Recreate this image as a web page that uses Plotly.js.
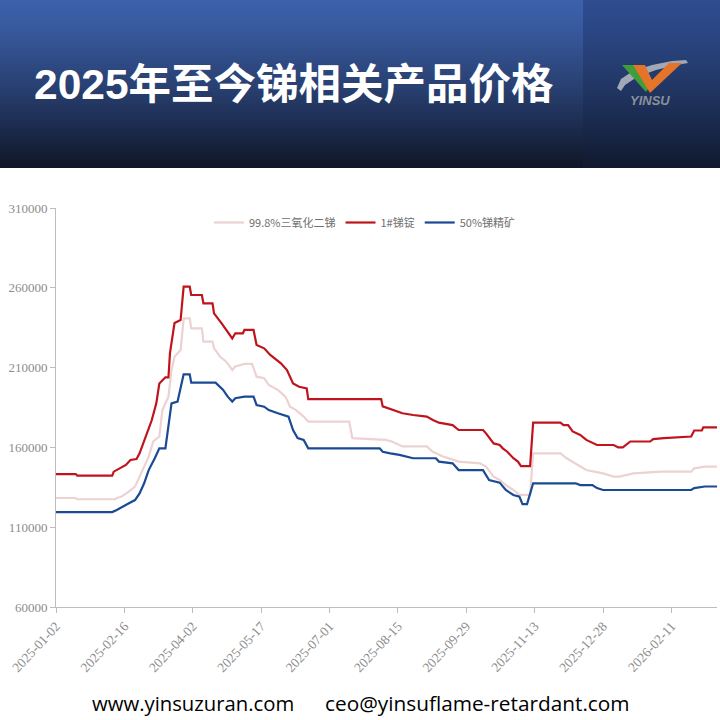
<!DOCTYPE html>
<html>
<head>
<meta charset="utf-8">
<script src="https://cdn.plot.ly/plotly-3.0.1.min.js"></script>
<style>html,body{margin:0;padding:0;background:#fff;}#chart{width:720px;height:720px;}</style>
</head>
<body>
<div id="chart"></div>
<script>
// ---------- DATA ----------
const seriesNames = ["99.8%三氧化二锑", "1#锑锭", "50%锑精矿"];

const oxideDates = ["2025-01-02","2025-01-15","2025-01-16","2025-02-10","2025-02-11","2025-02-14","2025-02-18","2025-02-23","2025-02-26","2025-03-01","2025-03-04","2025-03-07","2025-03-11","2025-03-13","2025-03-17","2025-03-19","2025-03-21","2025-03-25","2025-03-27","2025-03-31","2025-04-01","2025-04-08","2025-04-09","2025-04-15","2025-04-16","2025-04-20","2025-04-24","2025-04-28","2025-04-30","2025-05-06","2025-05-11","2025-05-14","2025-05-19","2025-05-22","2025-05-28","2025-06-02","2025-06-05","2025-06-09","2025-06-14","2025-06-17","2025-07-14","2025-07-16","2025-08-07","2025-08-11","2025-08-18","2025-09-03","2025-09-07","2025-09-14","2025-09-24","2025-10-08","2025-10-12","2025-10-17","2025-10-21","2025-10-25","2025-10-30","2025-11-03","2025-11-10","2025-11-12","2025-11-30","2025-12-04","2025-12-11","2025-12-17","2025-12-28","2026-01-04","2026-01-08","2026-01-13","2026-01-17","2026-02-04","2026-02-24","2026-02-26","2026-03-05","2026-03-13"];
const oxideValues = [128300,128300,127500,127500,128300,129100,131700,135400,141700,148000,154200,163700,166800,183400,191800,208500,216800,221000,240900,240900,234600,234600,226300,226300,222100,216800,213700,208500,210700,212300,212300,204300,203300,199100,196000,191800,185500,183400,179300,176200,176200,165800,164700,163700,160600,160600,157300,154200,151100,150000,148000,141700,139600,136400,133300,130200,130200,156300,156300,153200,149000,145800,143700,141700,141700,142700,143700,144800,144800,146900,148000,148000];

const ingotDates = ["2025-01-02","2025-01-15","2025-01-16","2025-02-08","2025-02-09","2025-02-11","2025-02-14","2025-02-17","2025-02-20","2025-02-24","2025-02-26","2025-02-28","2025-03-03","2025-03-06","2025-03-09","2025-03-11","2025-03-15","2025-03-17","2025-03-18","2025-03-21","2025-03-25","2025-03-27","2025-03-31","2025-04-01","2025-04-08","2025-04-09","2025-04-15","2025-04-16","2025-04-21","2025-04-24","2025-04-28","2025-04-30","2025-05-05","2025-05-06","2025-05-12","2025-05-14","2025-05-19","2025-05-23","2025-05-30","2025-06-03","2025-06-07","2025-06-11","2025-06-16","2025-06-17","2025-08-04","2025-08-05","2025-08-10","2025-08-15","2025-08-18","2025-08-25","2025-09-03","2025-09-07","2025-09-11","2025-09-20","2025-09-24","2025-10-10","2025-10-12","2025-10-17","2025-10-21","2025-10-23","2025-10-26","2025-10-30","2025-11-02","2025-11-04","2025-11-10","2025-11-12","2025-11-30","2025-12-02","2025-12-05","2025-12-08","2025-12-13","2025-12-17","2025-12-24","2026-01-04","2026-01-07","2026-01-10","2026-01-15","2026-01-28","2026-01-30","2026-02-06","2026-02-24","2026-02-26","2026-03-03","2026-03-04","2026-03-13"];
const ingotValues = [143300,143300,142300,142300,144800,145800,147500,149000,152100,152700,156300,161500,168800,177000,187600,200000,203900,203900,219100,237900,239800,260700,260700,255500,255500,250300,250300,244000,237700,233600,228300,231500,231500,233600,233600,224200,222100,217900,212700,208500,200000,198000,197000,190300,190300,185700,183900,182400,181400,180300,179300,177200,175500,174000,170900,170900,168800,162500,161500,159400,157300,153200,151100,148300,148300,175500,175500,174000,174000,170000,167800,164700,161500,161500,160000,160000,163700,163700,165200,165800,166800,170600,170600,172600,172600];

const oreDates = ["2025-01-02","2025-02-08","2025-02-11","2025-02-14","2025-02-19","2025-02-23","2025-02-26","2025-03-01","2025-03-04","2025-03-08","2025-03-11","2025-03-15","2025-03-17","2025-03-19","2025-03-23","2025-03-27","2025-03-31","2025-04-01","2025-04-17","2025-04-22","2025-04-25","2025-04-28","2025-04-30","2025-05-06","2025-05-12","2025-05-14","2025-05-19","2025-05-22","2025-05-28","2025-06-04","2025-06-07","2025-06-10","2025-06-14","2025-06-17","2025-08-03","2025-08-05","2025-08-10","2025-08-16","2025-08-25","2025-09-09","2025-09-11","2025-09-20","2025-09-24","2025-10-10","2025-10-14","2025-10-21","2025-10-25","2025-10-30","2025-11-03","2025-11-05","2025-11-08","2025-11-12","2025-12-10","2025-12-13","2025-12-21","2025-12-24","2025-12-28","2026-02-24","2026-02-26","2026-03-05","2026-03-13"];
const oreValues = [119500,119500,120800,122500,125000,127000,131200,137500,145800,153200,159400,159400,175100,187600,188700,205800,205800,200600,200600,196000,191800,188700,190800,191800,191800,186600,185500,183400,181400,179300,170900,165800,164700,159400,159400,157300,156300,155300,153200,153200,151100,150000,145800,145800,139600,137900,133300,130200,129100,124500,124500,137500,137500,136400,136400,134500,133300,133300,134500,135500,135500];

const xTickVals = ["2025-01-02","2025-02-16","2025-04-02","2025-05-17","2025-07-01","2025-08-15","2025-09-29","2025-11-13","2025-12-28","2026-02-11"];
const yTickVals = [60000,110000,160000,210000,260000,310000];

const titleText = "2025年至今锑相关产品价格";
const footerWeb = "www.yinsuzuran.com";
const footerMail = "ceo@yinsuflame-retardant.com";

// ---------- HELPERS (pixel -> paper) ----------
const W = 720, H = 720;
const px = x => x / W;
const py = y => 1 - y / H;

function lerp(a, b, t) { return Math.round(a + (b - a) * t); }
function rgb(c) { return `rgb(${c[0]},${c[1]},${c[2]})`; }

const shapes = [];
// header gradient bands
const bandH = 4, headerH = 168;
for (let y = 0; y < headerH; y += bandH) {
  const t = Math.pow(y / headerH, 1.25);
  const leftTop = [60, 96, 170], leftBot = [14, 20, 36];
  const rightTop = [46, 76, 142], rightBot = [16, 24, 44];
  shapes.push({type: "rect", xref: "paper", yref: "paper", x0: px(0), x1: px(583), y0: py(Math.min(y + bandH, headerH)), y1: py(y),
    fillcolor: rgb([lerp(leftTop[0], leftBot[0], t), lerp(leftTop[1], leftBot[1], t), lerp(leftTop[2], leftBot[2], t)]), line: {width: 0}, layer: "below"});
  shapes.push({type: "rect", xref: "paper", yref: "paper", x0: px(583), x1: px(720), y0: py(Math.min(y + bandH, headerH)), y1: py(y),
    fillcolor: rgb([lerp(rightTop[0], rightBot[0], t), lerp(rightTop[1], rightBot[1], t), lerp(rightTop[2], rightBot[2], t)]), line: {width: 0}, layer: "below"});
}
// logo
function pathFrom(pts) { return pts.map((p, i) => (i ? "L" : "M") + px(p[0]) + "," + py(p[1])).join(" ") + " Z"; }
// orbit swoosh
shapes.push({type: "path", xref: "paper", yref: "paper", path: pathFrom([[617,88],[621,79],[633,71],[652,65],[672,61],[686,60],[688,63],[676,65],[656,70],[637,77],[625,85],[621,91]]), fillcolor: "#a2a8b4", line: {width: 0}});
// green left arm
shapes.push({type: "path", xref: "paper", yref: "paper", path: pathFrom([[622,65],[637,65],[650,86],[646,92]]), fillcolor: "#3f9d3a", line: {width: 0}});
// orange V
shapes.push({type: "path", xref: "paper", yref: "paper", path: pathFrom([[633,65],[645,65],[652,80],[669,63],[682,63],[650,93]]), fillcolor: "#e4742a", line: {width: 0}});

const annotations = [
  {xref: "paper", yref: "paper", x: px(32), y: py(84), xanchor: "left", yanchor: "middle", showarrow: false,
   text: "<b>" + titleText + "</b>", font: {family: "Liberation Sans, Noto Sans CJK SC, sans-serif", size: 42.5, color: "#ffffff"}},
  {xref: "paper", yref: "paper", x: px(650), y: py(101), xanchor: "center", yanchor: "middle", showarrow: false,
   text: "<b><i>YINSU</i></b>", font: {family: "Liberation Sans, Arial, sans-serif", size: 13, color: "#8a909c"}},
  {xref: "paper", yref: "paper", x: px(90), y: py(703), xanchor: "left", yanchor: "middle", showarrow: false,
   text: footerWeb, font: {family: "Open Sans, Noto Sans, sans-serif", size: 20.3, color: "#000000"}},
  {xref: "paper", yref: "paper", x: px(323), y: py(703), xanchor: "left", yanchor: "middle", showarrow: false,
   text: footerMail, font: {family: "Open Sans, Noto Sans, sans-serif", size: 20.8, color: "#000000"}}
];

const traces = [
  {x: oxideDates, y: oxideValues, name: seriesNames[0], type: "scatter", mode: "lines", line: {color: "#ecd2d2", width: 2.2}},
  {x: ingotDates, y: ingotValues, name: seriesNames[1], type: "scatter", mode: "lines", line: {color: "#c0141c", width: 2.2}},
  {x: oreDates, y: oreValues, name: seriesNames[2], type: "scatter", mode: "lines", line: {color: "#1a4a94", width: 2.2}}
];

const yAxisFont = {family: "Liberation Serif, Times New Roman, serif", size: 13, color: "#8c8c8c"};
const xAxisFont = {family: "Liberation Serif, Times New Roman, serif", size: 13.5, color: "#8c8c8c"};

const layout = {
  width: W, height: H,
  margin: {l: 0, r: 0, t: 0, b: 0},
  paper_bgcolor: "#ffffff", plot_bgcolor: "#ffffff",
  showlegend: true,
  legend: {orientation: "h", x: px(209), y: py(222.5), xanchor: "left", yanchor: "middle",
    font: {family: "Noto Sans CJK SC, sans-serif", size: 11, color: "#707070"}, bgcolor: "rgba(0,0,0,0)", itemwidth: 30, tracegroupgap: 0},
  xaxis: {type: "date", domain: [px(56), px(717)], range: ["2025-01-02", "2026-03-13"], anchor: "y",
    tickvals: xTickVals, tickformat: "%Y-%m-%d", tickangle: -47, ticks: "outside", ticklen: 5, tickcolor: "#bdbdbd",
    showline: true, linecolor: "#bdbdbd", linewidth: 1, showgrid: false, zeroline: false, tickfont: xAxisFont, fixedrange: true},
  yaxis: {domain: [py(607), py(208)], range: [60000, 310000], anchor: "x",
    tickvals: yTickVals, tickformat: "d", ticks: "outside", ticklen: 5, tickcolor: "#bdbdbd",
    showline: true, linecolor: "#bdbdbd", linewidth: 1, showgrid: false, zeroline: false, tickfont: yAxisFont, fixedrange: true},
  shapes: shapes,
  annotations: annotations
};

Plotly.newPlot("chart", traces, layout, {staticPlot: true, displayModeBar: false});
</script>
</body>
</html>
